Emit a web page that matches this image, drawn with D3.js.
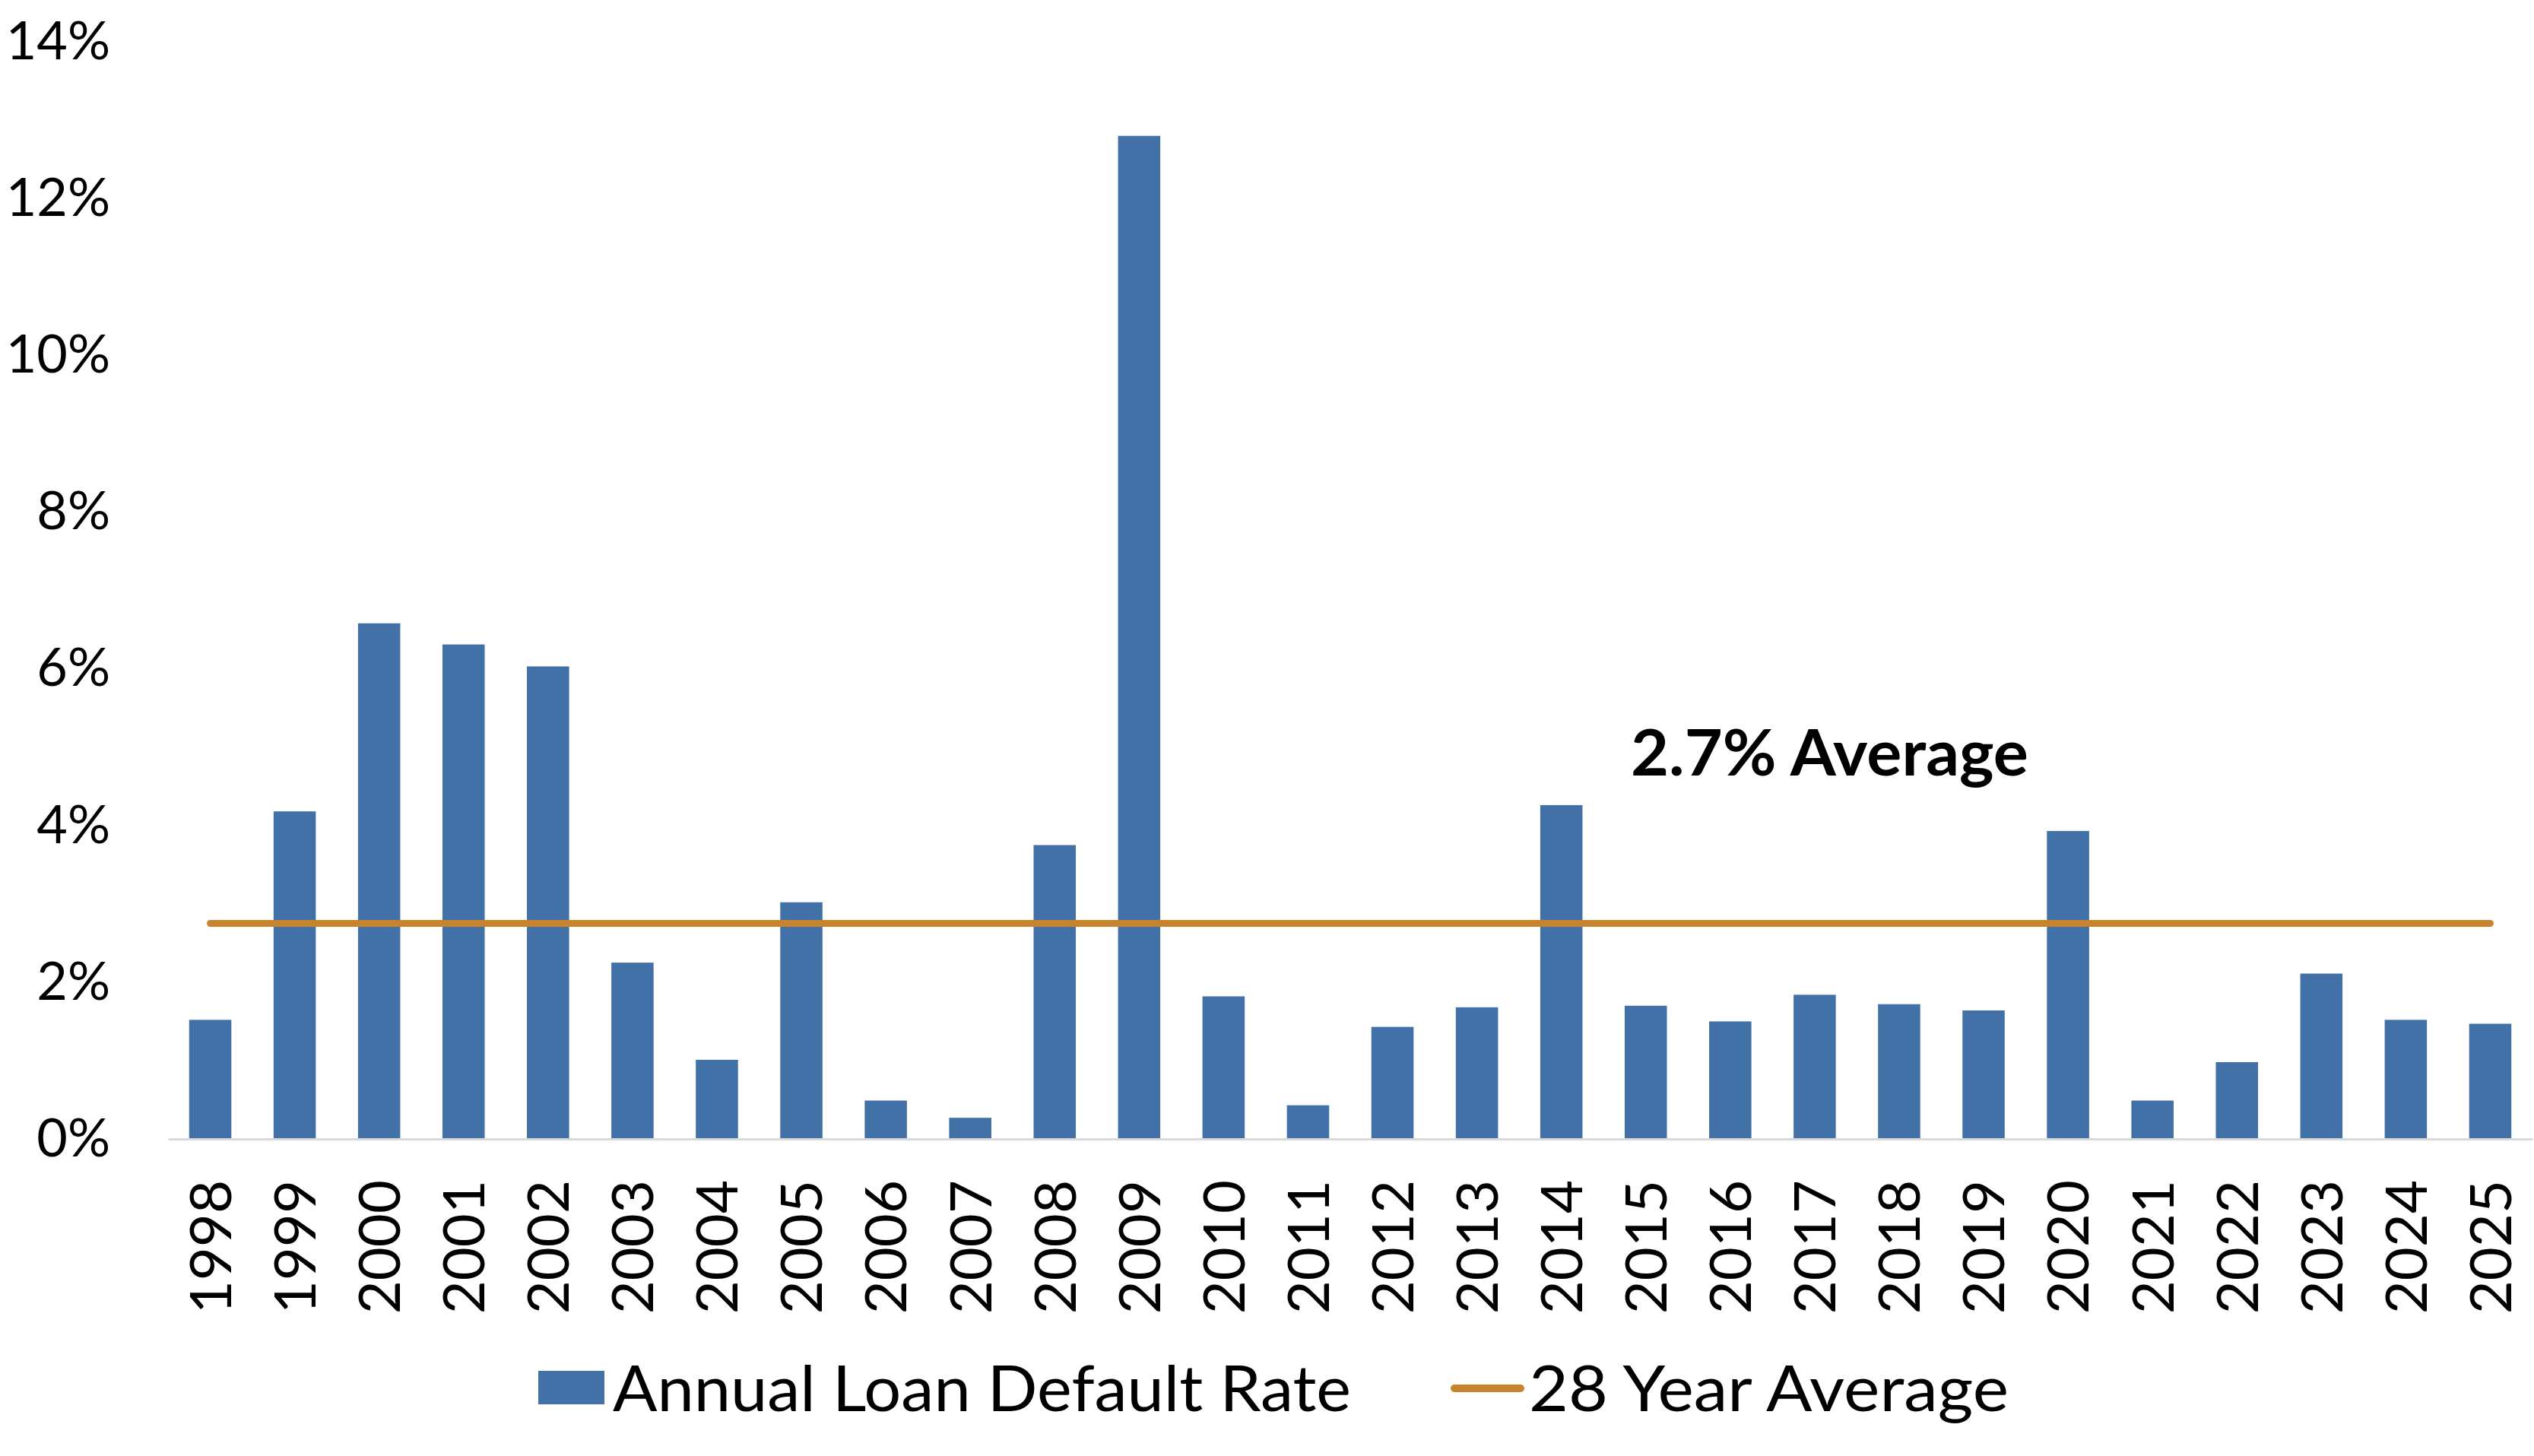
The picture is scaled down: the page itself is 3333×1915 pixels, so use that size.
<!DOCTYPE html>
<html lang="en">
<head>
  <meta charset="UTF-8">
  <title>Annual Loan Default Rate</title>
  <style>
    body { margin: 0; background: #fff; }
    svg text { font-family: Lato, "Open Sans", sans-serif; fill: #000; }
  </style>
</head>
<body>
<div id="chart"></div>
<script src="https://d3js.org/d3.v7.min.js"></script>
<script>
  const years = ['1998', '1999', '2000', '2001', '2002', '2003', '2004', '2005', '2006', '2007',
    '2008', '2009', '2010', '2011', '2012', '2013', '2014', '2015', '2016', '2017',
    '2018', '2019', '2020', '2021', '2022', '2023', '2024', '2025'];
  const defaultRates = [1.52, 4.18, 6.58, 6.31, 6.03, 2.25, 1.01, 3.02, 0.49, 0.27,
    3.75, 12.8, 1.82, 0.43, 1.43, 1.68, 4.26, 1.70, 1.50, 1.84,
    1.72, 1.64, 3.93, 0.49, 0.98, 2.11, 1.52, 1.47];
  const averageRate = 2.75;
  const yTicks = [0, 2, 4, 6, 8, 10, 12, 14];
  const barLabel = 'Annual Loan Default Rate';
  const lineLabel = '28 Year Average';
  const noteLabel = '2.7% Average';

  const W = 3333, H = 1915;
  const margin = {top: 55, right: 2, bottom: 417, left: 221};
  const width = W - margin.left - margin.right,
    height = H - margin.top - margin.bottom;

  const svg = d3.select('#chart').append('svg')
    .attr('width', W)
    .attr('height', H);

  const g = svg.append('g')
    .attr('transform', `translate(${margin.left},${margin.top})`);

  const x = d3.scaleBand()
    .domain(years)
    .range([0, width])
    .paddingInner(0.5)
    .paddingOuter(0.25);

  const y = d3.scaleLinear()
    .domain([0, 14])
    .range([height, 0]);

  // bars
  g.selectAll('.bar')
    .data(defaultRates)
    .enter().append('rect')
    .attr('class', 'bar')
    .attr('x', (d, i) => x(years[i]))
    .attr('y', d => y(d))
    .attr('width', x.bandwidth())
    .attr('height', d => y(0) - y(d))
    .attr('fill', '#4271A8');

  // x axis
  const xAxis = g.append('g')
    .attr('transform', `translate(0,${height})`)
    .call(d3.axisBottom(x).tickSize(0).tickPadding(0));
  xAxis.select('.domain').attr('stroke', '#d9d9d9').attr('stroke-width', 3);
  xAxis.selectAll('text')
    .attr('transform', 'rotate(-90)')
    .attr('x', -54)
    .attr('y', 0)
    .attr('dy', '0.36em')
    .style('text-anchor', 'end')
    .style('font-size', '76px')
    .style('font-family', 'Lato, sans-serif');

  // y axis
  const yAxis = g.append('g')
    .call(d3.axisLeft(y).tickValues(yTicks).tickSize(0).tickPadding(76).tickFormat(d => d + '%'));
  yAxis.select('.domain').remove();
  yAxis.selectAll('text')
    .style('font-size', '70px')
    .style('font-family', 'Lato, sans-serif');

  // average line
  g.append('line')
    .attr('x1', x(years[0]) + x.bandwidth() / 2)
    .attr('x2', x(years[years.length - 1]) + x.bandwidth() / 2)
    .attr('y1', y(averageRate))
    .attr('y2', y(averageRate))
    .attr('stroke', '#C8842C')
    .attr('stroke-width', 9)
    .attr('stroke-linecap', 'round');

  // annotation
  g.append('text')
    .attr('x', 2145 - margin.left)
    .attr('y', 1020 - margin.top)
    .attr('textLength', 523)
    .attr('lengthAdjust', 'spacingAndGlyphs')
    .style('font-size', '84px')
    .style('font-weight', 'bold')
    .text(noteLabel);

  // legend
  const legend = svg.append('g');
  legend.append('rect')
    .attr('x', 708).attr('y', 1803)
    .attr('width', 87).attr('height', 44)
    .attr('fill', '#4271A8');
  legend.append('text')
    .attr('x', 806).attr('y', 1826).attr('dy', '0.36em')
    .attr('textLength', 971)
    .attr('lengthAdjust', 'spacingAndGlyphs')
    .style('font-size', '84px')
    .text(barLabel);
  legend.append('line')
    .attr('x1', 1913).attr('x2', 2000)
    .attr('y1', 1826).attr('y2', 1826)
    .attr('stroke', '#C8842C')
    .attr('stroke-width', 10)
    .attr('stroke-linecap', 'round');
  legend.append('text')
    .attr('x', 2011).attr('y', 1826).attr('dy', '0.36em')
    .attr('textLength', 631)
    .attr('lengthAdjust', 'spacingAndGlyphs')
    .style('font-size', '84px')
    .text(lineLabel);
</script>
</body>
</html>
